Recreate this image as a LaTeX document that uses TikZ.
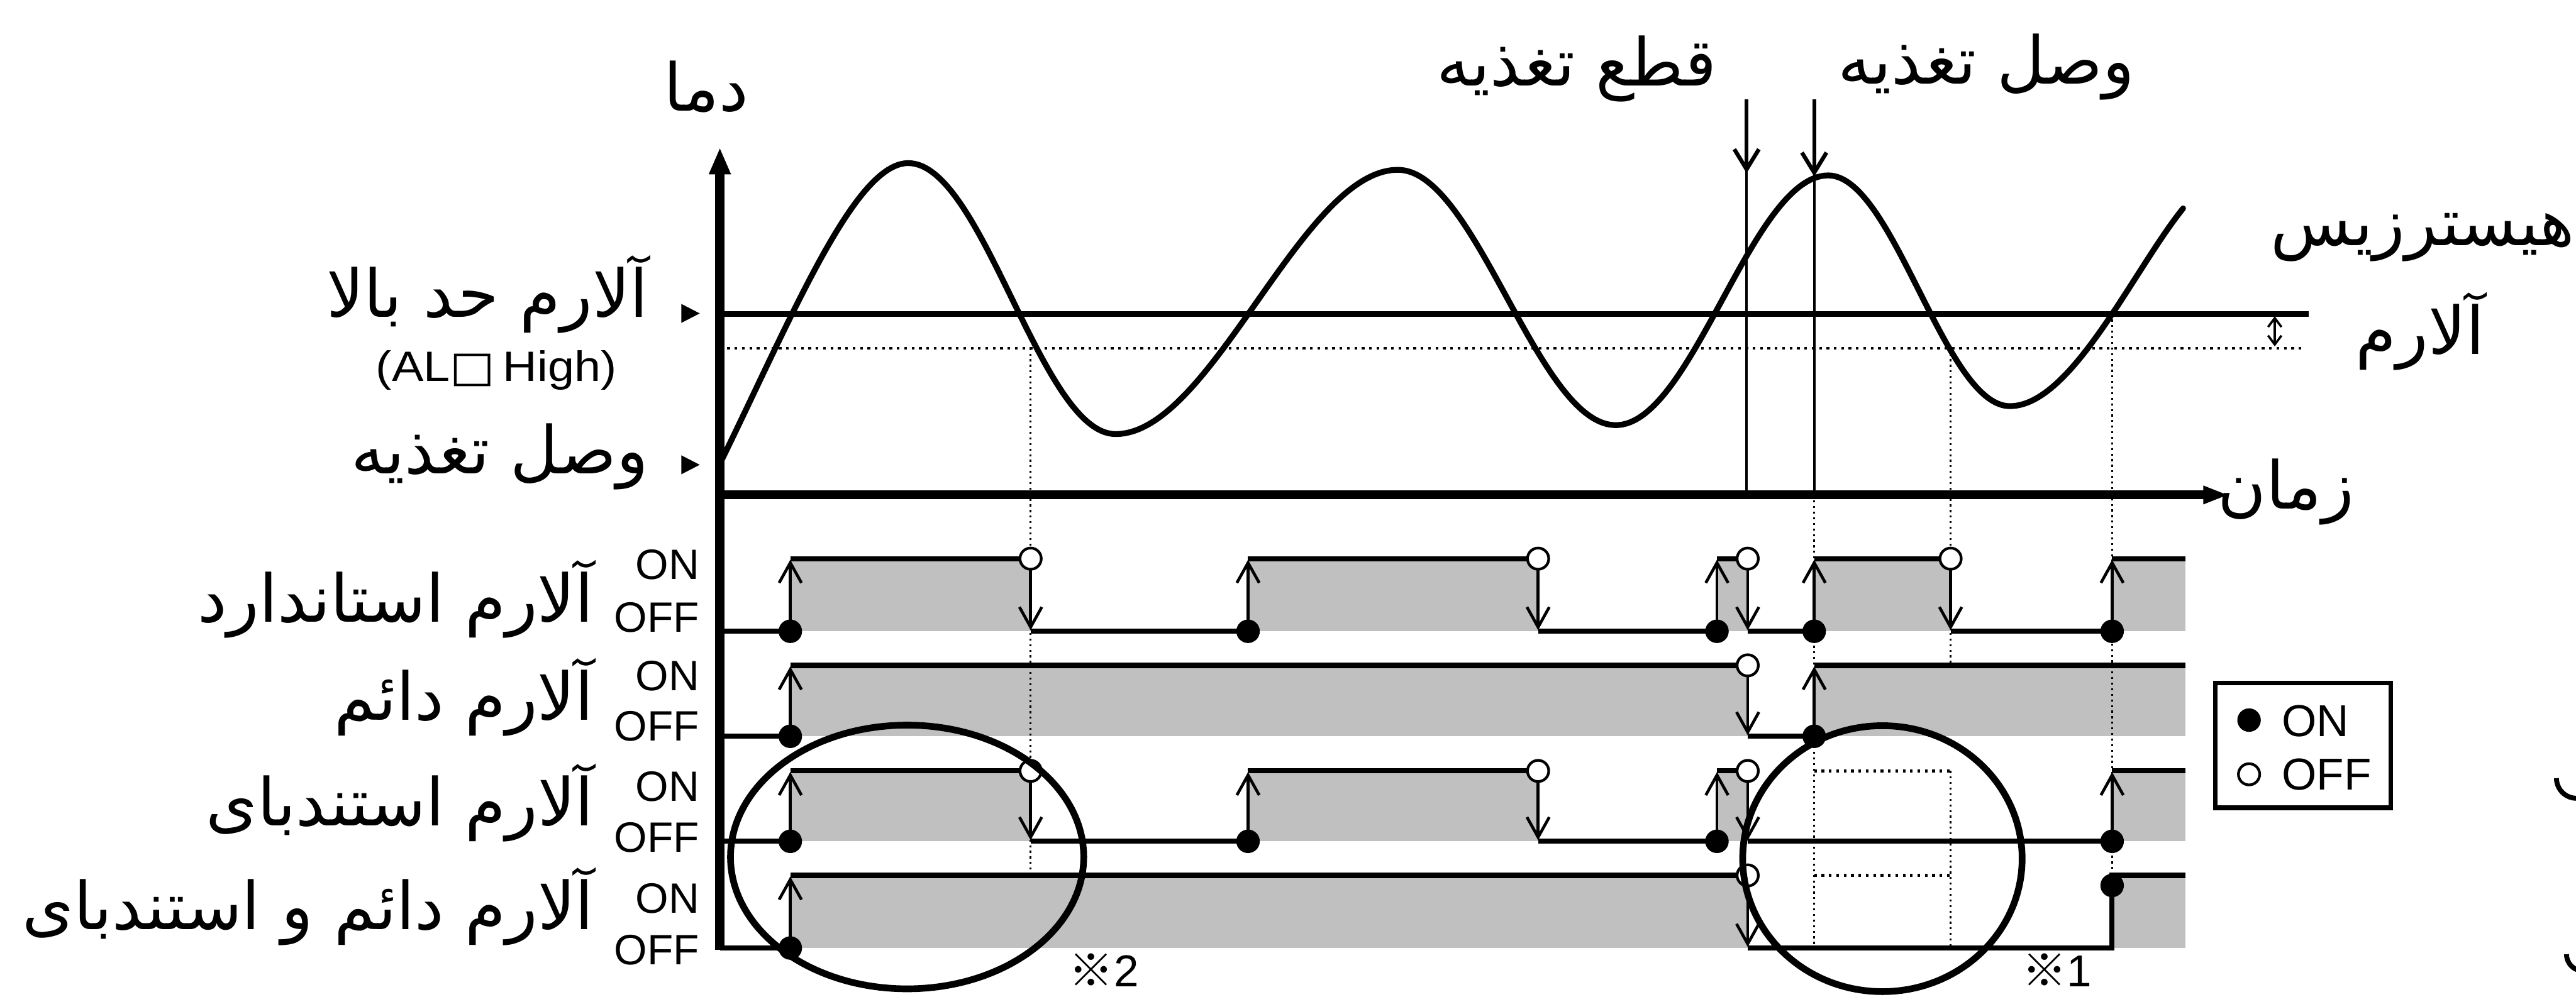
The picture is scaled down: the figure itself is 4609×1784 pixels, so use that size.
\documentclass[tikz,border=0pt]{standalone}
\usepackage{fontspec}
\setmainfont{Liberation Sans}
\newfontfamily\arabicfont[Script=Arabic]{DejaVu Sans}
\newfontfamily\dejavu{DejaVu Sans}
\newfontfamily\cjkfont{Noto Sans CJK JP}
\TeXXeTstate=1
\usetikzlibrary{arrows.meta}
\definecolor{gfill}{RGB}{192,192,192}
\newcommand{\fa}[1]{{\arabicfont\beginR #1\endR}}
\begin{document}
\begin{tikzpicture}[x=0.25pt,y=-0.25pt,
  fatext/.style={font=\fontsize{29.5}{32}\selectfont, inner sep=0pt},
  onoff/.style={font=\fontsize{19}{20}\selectfont, inner sep=0pt, anchor=east},
  sig/.style={line width=2.3pt},
  edgearrow/.style={line width=1.3pt, -{Straight Barb[length=9pt,width=10pt]}},
  toparrow/.style={line width=1.8pt, -{Straight Barb[length=9pt,width=11pt]}},
  dotline/.style={line width=1.2pt, dash pattern=on 1.2pt off 2.1pt},
  vdot/.style={line width=0.9pt, dash pattern=on 0.9pt off 1.6pt},
  ondot/.style={fill=black},
  offdot/.style={fill=white, draw=black, line width=1.2pt},
  ring/.style={line width=3pt}]
\useasboundingbox (0,0) rectangle (4609,1784);
\fill[white] (0,0) rectangle (4609,1784);

% row levels
\def\onA{1000}\def\ofA{1130}
\def\onB{1191}\def\ofB{1318}
\def\onC{1380}\def\ofC{1506}
\def\onD{1567}\def\ofD{1697}
% event times
\def\tA{1414}\def\tB{1844}\def\tC{2233}\def\tD{2752}\def\tE{3072}
\def\tP{3127}\def\tQ{3246}\def\tF{3490}\def\tG{3779}\def\tZ{3910}

% ---------- gray ON areas ----------
\fill[gfill] (\tA,\onA) rectangle (\tB,\ofA);
\fill[gfill] (\tC,\onA) rectangle (\tD,\ofA);
\fill[gfill] (\tE,\onA) rectangle (\tP,\ofA);
\fill[gfill] (\tQ,\onA) rectangle (\tF,\ofA);
\fill[gfill] (\tG,\onA) rectangle (\tZ,\ofA);
\fill[gfill] (\tA,\onB) rectangle (\tP,\ofB);
\fill[gfill] (\tQ,\onB) rectangle (\tZ,\ofB);
\fill[gfill] (\tA,\onC) rectangle (\tB,\ofC);
\fill[gfill] (\tC,\onC) rectangle (\tD,\ofC);
\fill[gfill] (\tE,\onC) rectangle (\tP,\ofC);
\fill[gfill] (\tG,\onC) rectangle (\tZ,\ofC);
\fill[gfill] (\tA,\onD) rectangle (\tP,\ofD);
\fill[gfill] (\tG,\onD) rectangle (\tZ,\ofD);

% ---------- dotted guide lines ----------
\draw[dotline] (1288,623) -- (4123,623);
\draw[vdot] (\tB,623) -- (\tB,\onD);
\draw[vdot] (\tQ,886) -- (\tQ,\ofD);
\draw[vdot] (\tF,623) -- (\tF,\onB);
\draw[vdot] (\tF,\onC) -- (\tF,\ofD);
\draw[dotline] (\tQ,\onC) -- (\tF,\onC);
\draw[dotline] (\tQ,\onD) -- (\tF,\onD);
\draw[vdot] (\tG,562) -- (\tG,1585);

% ---------- axes ----------
\draw[line width=4.3pt] (1288,1700) -- (1288,300);
\fill (1288,266) -- (1268,312) -- (1308,312) -- cycle;
\draw[line width=4pt] (1286,886) -- (3950,886);
\fill (3985,886) -- (3942,869) -- (3942,903) -- cycle;
\fill (1252,561) -- (1219,544) -- (1219,578) -- cycle;
\fill (1252,832) -- (1219,815) -- (1219,849) -- cycle;

% alarm high limit and hysteresis
\draw[line width=2.3pt] (1288,562) -- (4131,562);
\draw[line width=1pt, {Straight Barb[length=4pt,width=6pt]}-{Straight Barb[length=4pt,width=6pt]}] (4070,566) -- (4070,620);

% power off / on markers
\draw[line width=1pt] (3125,300) -- (3125,886);
\draw[line width=1pt] (3246,300) -- (3246,886);
\draw[toparrow] (3125,178) -- (3125,310);
\draw[toparrow] (3246,178) -- (3246,316);

% temperature curve
\draw[line width=2.6pt, line join=round, line cap=round]
 (1292,822) .. controls (1420,560) and (1530,292) .. (1625,292)
 .. controls (1759,292) and (1862,777) .. (1996,777)
 .. controls (2168,777) and (2329,304) .. (2501,304)
 .. controls (2641,304) and (2751,761) .. (2891,761)
 .. controls (3028,761) and (3134,314) .. (3271,314)
 .. controls (3388,314) and (3479,727) .. (3596,727)
 .. controls (3706,727) and (3816,485) .. (3906,373);

% ---------- row 1 : standard ----------
\draw[sig] (1288,\ofA) -- (\tA,\ofA);
\draw[sig] (\tA,\onA) -- (\tB,\onA);
\draw[sig] (\tB,\ofA) -- (\tC,\ofA);
\draw[sig] (\tC,\onA) -- (\tD,\onA);
\draw[sig] (\tD,\ofA) -- (\tE,\ofA);
\draw[sig] (\tE,\onA) -- (\tP,\onA);
\draw[sig] (\tP,\ofA) -- (\tQ,\ofA);
\draw[sig] (\tQ,\onA) -- (\tF,\onA);
\draw[sig] (\tF,\ofA) -- (\tG,\ofA);
\draw[sig] (\tG,\onA) -- (\tZ,\onA);
\foreach \t in {\tA,\tC,\tE,\tQ,\tG}{
  \draw[edgearrow] (\t,\ofA) -- (\t,\onA+2);
  \fill[ondot] (\t,\ofA) circle (21);}
\foreach \t in {\tB,\tD,\tP,\tF}{
  \draw[edgearrow] (\t,\onA) -- (\t,\ofA-2);
  \draw[offdot] (\t,\onA) circle (19);}

% ---------- row 2 : latch ----------
\draw[sig] (1288,\ofB) -- (\tA,\ofB);
\draw[sig] (\tA,\onB) -- (\tP,\onB);
\draw[sig] (\tP,\ofB) -- (\tQ,\ofB);
\draw[sig] (\tQ,\onB) -- (\tZ,\onB);
\foreach \t in {\tA,\tQ}{
  \draw[edgearrow] (\t,\ofB) -- (\t,\onB+2);
  \fill[ondot] (\t,\ofB) circle (21);}
\draw[edgearrow] (\tP,\onB) -- (\tP,\ofB-2);
\draw[offdot] (\tP,\onB) circle (19);

% ---------- row 3 : standby ----------
\draw[sig] (1288,\ofC) -- (\tA,\ofC);
\draw[sig] (\tA,\onC) -- (\tB,\onC);
\draw[sig] (\tB,\ofC) -- (\tC,\ofC);
\draw[sig] (\tC,\onC) -- (\tD,\onC);
\draw[sig] (\tD,\ofC) -- (\tE,\ofC);
\draw[sig] (\tE,\onC) -- (\tP,\onC);
\draw[sig] (\tP,\ofC) -- (\tG,\ofC);
\draw[sig] (\tG,\onC) -- (\tZ,\onC);
\foreach \t in {\tA,\tC,\tE,\tG}{
  \draw[edgearrow] (\t,\ofC) -- (\t,\onC+2);
  \fill[ondot] (\t,\ofC) circle (21);}
\foreach \t in {\tB,\tD,\tP}{
  \draw[edgearrow] (\t,\onC) -- (\t,\ofC-2);
  \draw[offdot] (\t,\onC) circle (19);}

% ---------- row 4 : latch + standby ----------
\draw[sig] (1288,\ofD) -- (\tA,\ofD);
\draw[sig] (\tA,\onD) -- (\tP,\onD);
\draw[sig] (\tP,\ofD) -- (\tG,\ofD) -- (\tG,\onD) -- (\tZ,\onD);
\draw[edgearrow] (\tA,\ofD) -- (\tA,\onD+2);
\fill[ondot] (\tA,\ofD) circle (21);
\draw[edgearrow] (\tP,\onD) -- (\tP,\ofD-2);
\draw[offdot] (\tP,\onD) circle (19);
\fill[ondot] (\tG,1585) circle (21);

% ---------- highlight ellipses ----------
\draw[ring] (1623,1534) ellipse [x radius=316, y radius=236];
\draw[ring] (3368,1537) ellipse [x radius=250, y radius=238];
\node[font=\fontsize{20}{22}\selectfont, inner sep=0pt, anchor=base west] (n2) at (1912,1766) {{\cjkfont ※}2};
\node[font=\fontsize{20}{22}\selectfont, inner sep=0pt, anchor=base west] (n1) at (3617,1766) {{\cjkfont ※}1};

% ---------- legend ----------
\draw[line width=2pt] (3964,1223) rectangle (4278,1446);
\fill[ondot] (4024,1289) circle (21);
\draw[offdot] (4024,1386) circle (19);
\node[font=\fontsize{20}{22}\selectfont, inner sep=0pt, anchor=west] (lon) at (4082,1291) {ON};
\node[font=\fontsize{20}{22}\selectfont, inner sep=0pt, anchor=west] (loff) at (4082,1386) {OFF};

% fragments of letters cut by the right edge
\draw[line width=2.2pt] (4574,1393) arc[start angle=180, end angle=80, radius=36];
\draw[line width=2.2pt] (4592,1708) arc[start angle=180, end angle=80, radius=30];

% ---------- texts ----------
\node[fatext] (tdama) at (1263,155) {\fa{دما}};
\node[fatext, anchor=east] (thigh) at (1161,527) {\fa{آلارم حد بالا}};
\node[font=\fontsize{19}{20}\selectfont, inner sep=0pt] (thighen) at (888,663) {\scalebox{1.12}[1]{(AL{\dejavu □}\,High)}};
\node[fatext, anchor=east] (tpon) at (1161,818) {\fa{وصل تغذیه}};
\node[fatext] (ttime) at (4090,881) {\fa{زمان}};
\node[fatext] (tcut) at (2821,123) {\fa{قطع تغذیه}};
\node[fatext] (tcon) at (3554,120) {\fa{وصل تغذیه}};
\node[fatext, anchor=west] (thys) at (4062,425) {\fa{هیسترزیس}};
\node[fatext] (talarm) at (4330,593) {\fa{آلارم}};

\node[fatext, anchor=east] (r1) at (1063,1073) {\fa{آلارم استاندارد}};
\node[fatext, anchor=east] (r2) at (1063,1248) {\fa{آلارم دائم}};
\node[fatext, anchor=east] (r3) at (1063,1437) {\fa{آلارم استندبای}};
\node[fatext, anchor=east] (r4) at (1063,1623) {\fa{آلارم دائم و استندبای}};

\node[onoff] (on1) at (1252,1011) {ON};
\node[onoff] (of1) at (1252,1105) {OFF};
\node[onoff] (on2) at (1252,1210) {ON};
\node[onoff] (of2) at (1252,1300) {OFF};
\node[onoff] (on3) at (1252,1408) {ON};
\node[onoff] (of3) at (1252,1499) {OFF};
\node[onoff] (on4) at (1252,1608) {ON};
\node[onoff] (of4) at (1252,1700) {OFF};
\end{tikzpicture}
\end{document}
